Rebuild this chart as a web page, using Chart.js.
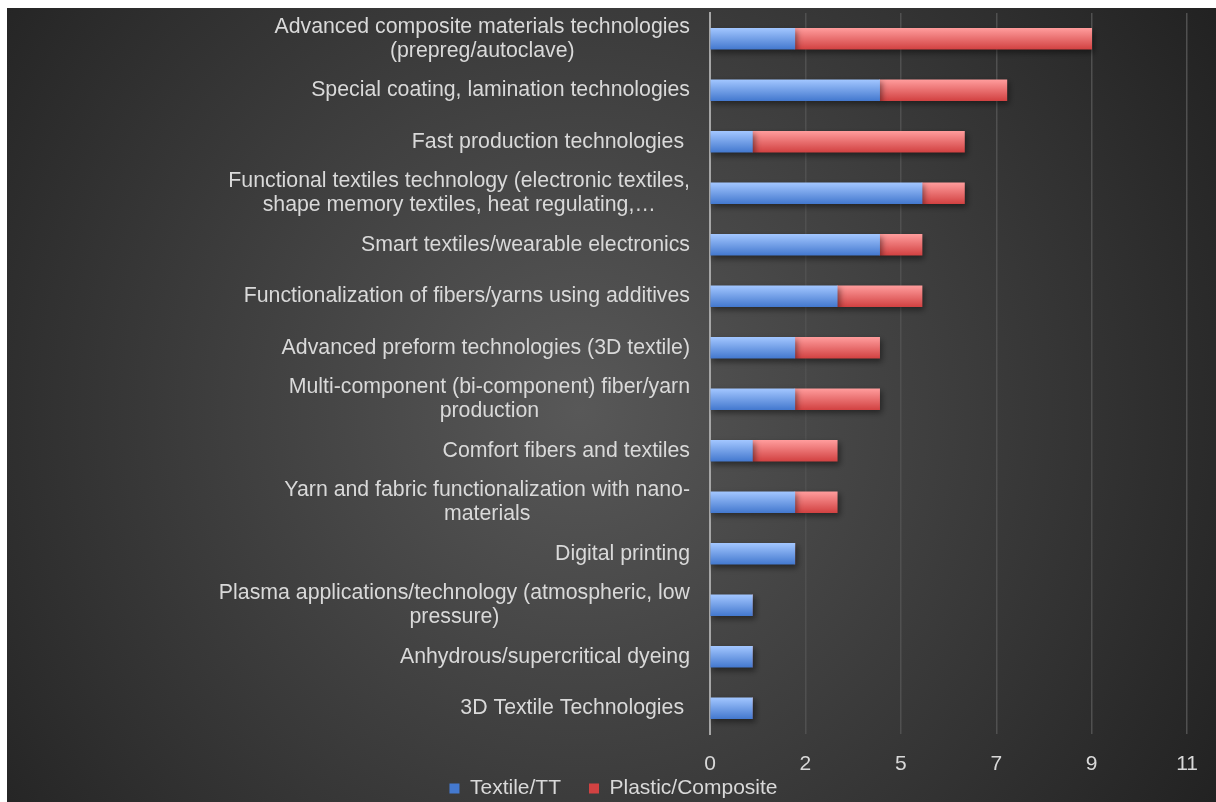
<!DOCTYPE html>
<html>
<head>
<meta charset="utf-8">
<title>Technologies by sector</title>
<script src="https://cdn.jsdelivr.net/npm/chart.js@4.4.0/dist/chart.umd.min.js"></script>
<style>
  html, body { margin: 0; padding: 0; background: #fff; }
  #wrap { width: 1216px; height: 802px; }
</style>
</head>
<body>
<div id="wrap"><canvas id="techChart"></canvas></div>
<script>
// category labels, already split into the lines they wrap to
const technologies = [
  ['Advanced composite materials technologies', '(prepreg/autoclave)'],
  ['Special coating, lamination technologies'],
  ['Fast production technologies '],
  ['Functional textiles technology (electronic textiles,', 'shape memory textiles, heat regulating,…'],
  ['Smart textiles/wearable electronics'],
  ['Functionalization of fibers/yarns using additives'],
  ['Advanced preform technologies (3D textile)'],
  ['Multi-component (bi-component) fiber/yarn', 'production'],
  ['Comfort fibers and textiles'],
  ['Yarn and fabric functionalization with nano-', 'materials'],
  ['Digital printing'],
  ['Plasma applications/technology (atmospheric, low', 'pressure)'],
  ['Anhydrous/supercritical dyeing'],
  ['3D Textile Technologies ']
];
const textileTT = [2, 4, 1, 5, 4, 3, 2, 2, 1, 2, 2, 1, 1, 1];
const plasticComposite = [7, 3, 5, 1, 1, 2, 2, 2, 2, 1, 0, 0, 0, 0];

// value axis runs 0..11.25 in steps of 2.25, labels rounded to whole numbers
const axisMax = 11.25;
const axisStep = 2.25;

const FONT = '"Liberation Sans", Arial, sans-serif';
const BAR_H = 21;

function barGradient(c, top, bottom) {
  const y = c.chart.scales && c.chart.scales.y;
  if (!y || c.dataIndex === undefined) return bottom;
  const mid = y.getPixelForValue(c.dataIndex);
  if (!Number.isFinite(mid)) return bottom;
  const g = c.chart.ctx.createLinearGradient(0, mid - BAR_H / 2, 0, mid + BAR_H / 2);
  g.addColorStop(0, top);
  g.addColorStop(1, bottom);
  return g;
}

const backdrop = {
  id: 'backdrop',
  beforeDraw(chart) {
    const { ctx, width, height } = chart;
    ctx.save();
    ctx.fillStyle = '#fff';
    ctx.fillRect(0, 0, width, height);
    const g = ctx.createRadialGradient(580, 410, 0, 580, 410, 760);
    g.addColorStop(0, '#585858');
    g.addColorStop(1, '#212121');
    ctx.fillStyle = g;
    ctx.fillRect(7, 8, width - 7, height - 8);
    ctx.restore();
  }
};

// soft drop shadow under the bars
const barShadow = {
  id: 'barShadow',
  beforeDatasetsDraw(chart) {
    const ctx = chart.ctx;
    ctx.save();
    ctx.shadowColor = 'rgba(0,0,0,0.45)';
    ctx.shadowBlur = 6;
    ctx.shadowOffsetX = 2;
    ctx.shadowOffsetY = 3;
  },
  afterDatasetsDraw(chart) {
    chart.ctx.restore();
  }
};

// wrapped category labels: block right-aligned to the axis, lines centred in the block
const categoryLabels = {
  id: 'categoryLabels',
  afterDraw(chart) {
    const { ctx, chartArea } = chart;
    const scale = chart.scales.y;
    ctx.save();
    ctx.font = '21.3px ' + FONT;
    ctx.fillStyle = '#d9d9d9';
    ctx.textAlign = 'center';
    ctx.textBaseline = 'middle';
    technologies.forEach((lines, i) => {
      const yc = scale.getPixelForTick(i);
      const w = Math.max(...lines.map(l => ctx.measureText(l).width));
      const cx = chartArea.left - 20 - w / 2;
      lines.forEach((line, j) => {
        ctx.fillText(line, cx, yc + (j - (lines.length - 1) / 2) * 24);
      });
    });
    ctx.restore();
  }
};

// legend row sits centred under the whole panel; the value labels may run
// down over the legend strip, so the x scale box is stretched to the bottom
const layoutTweaks = {
  id: 'layoutTweaks',
  afterLayout(chart) {
    const lg = chart.legend;
    lg.left += 16;
    lg.right += 16;
    lg.top += 7;
    lg.bottom += 7;
    const x = chart.scales.x;
    x.bottom = chart.height;
    x.height = x.bottom - x.top;
  }
};

new Chart(document.getElementById('techChart'), {
  type: 'bar',
  data: {
    labels: technologies,
    datasets: [
      {
        label: 'Textile/TT',
        data: textileTT,
        backgroundColor: c => barGradient(c, '#a2c6ff', '#4479cf')
      },
      {
        label: 'Plastic/Composite',
        data: plasticComposite,
        backgroundColor: c => barGradient(c, '#ff9c9c', '#d24242')
      }
    ]
  },
  options: {
    indexAxis: 'y',
    responsive: true,
    maintainAspectRatio: false,
    animation: false,
    barThickness: BAR_H,
    layout: { padding: { left: 7, top: 13, right: 28, bottom: 0 } },
    scales: {
      x: {
        stacked: true,
        min: 0,
        max: axisMax,
        afterBuildTicks: axis => {
          axis.ticks = [];
          for (let v = 0; v <= axisMax + 1e-9; v += axisStep) axis.ticks.push({ value: v });
        },
        ticks: {
          callback: v => Math.round(v),
          color: '#d9d9d9',
          font: { family: FONT, size: 21 },
          padding: 18,
          maxRotation: 0
        },
        grid: { color: '#505050', lineWidth: 1.5, drawTicks: false },
        border: { display: false },
        afterFit: s => { s.height = 9; }
      },
      y: {
        stacked: true,
        ticks: { display: false },
        grid: { display: false },
        border: { display: true, color: '#a6a6a6', width: 2 },
        afterFit: s => { s.width = 703; }
      }
    },
    plugins: {
      legend: {
        position: 'bottom',
        labels: {
          color: '#d9d9d9',
          font: { family: FONT, size: 21 },
          boxWidth: 10,
          boxHeight: 10,
          padding: 28
        }
      },
      tooltip: { enabled: false }
    }
  },
  plugins: [backdrop, barShadow, categoryLabels, layoutTweaks]
});
</script>
</body>
</html>
